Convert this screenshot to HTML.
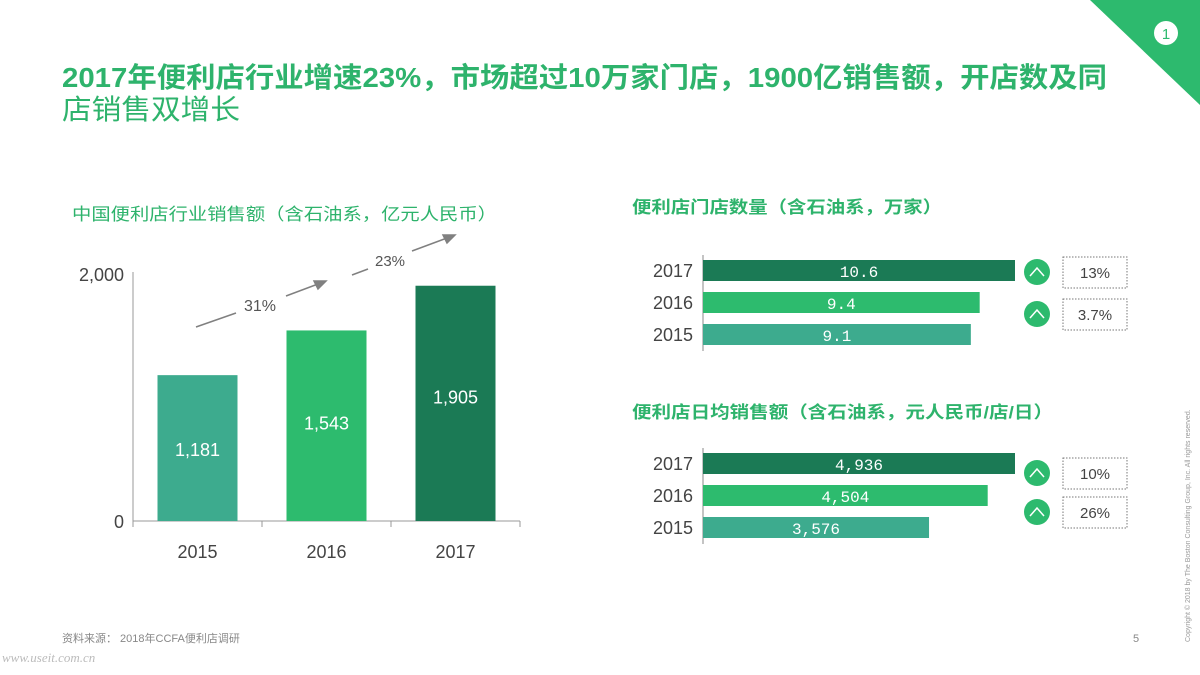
<!DOCTYPE html>
<html><head><meta charset="utf-8"><style>
body{margin:0;width:1200px;height:675px;overflow:hidden;background:#fff;font-family:"Liberation Sans","Noto Sans CJK SC",sans-serif;position:relative}
.abs{position:absolute}
</style></head><body>
<svg class="abs" style="left:0;top:0" width="1200" height="675">
<polygon points="1090,0 1200,0 1200,105" fill="#2dba6e"/>
<circle cx="1166" cy="33" r="12" fill="#fff"/>
<text x="1166" y="39" text-anchor="middle" font-size="15" fill="#2dba6e" font-family="Liberation Sans,sans-serif">1</text>
<text x="62" y="87" font-size="28" fill="#2eb36c" font-weight="bold" textLength="1045" lengthAdjust="spacingAndGlyphs" font-family="Liberation Sans,Noto Sans CJK SC,sans-serif">2017年便利店行业增速23%，市场超过10万家门店，1900亿销售额，开店数及同</text>
<text x="62" y="119" font-size="28" fill="#2eb36c" textLength="178" lengthAdjust="spacingAndGlyphs" font-family="Liberation Sans,Noto Sans CJK SC,sans-serif">店销售双增长</text>
<text x="72" y="220" font-size="17" fill="#2eb36c" textLength="425" lengthAdjust="spacingAndGlyphs" font-family="Liberation Sans,Noto Sans CJK SC,sans-serif">中国便利店行业销售额（含石油系，亿元人民币）</text>
<text x="632" y="213" font-size="17" fill="#2eb36c" font-weight="bold" textLength="310" lengthAdjust="spacingAndGlyphs" font-family="Liberation Sans,Noto Sans CJK SC,sans-serif">便利店门店数量（含石油系，万家）</text>
<text x="632" y="418" font-size="17" fill="#2eb36c" font-weight="bold" textLength="421" lengthAdjust="spacingAndGlyphs" font-family="Liberation Sans,Noto Sans CJK SC,sans-serif">便利店日均销售额（含石油系，元人民币/店/日）</text>
<g id="left"></g>
<g id="right"></g>
<g stroke="#808080" stroke-width="1.5" fill="#808080">
<line x1="196" y1="327" x2="236" y2="313"/><line x1="286" y1="296" x2="318" y2="284"/>
<polygon points="326,281 314,281 318,289"/>
<line x1="412" y1="251" x2="447" y2="238"/><polygon points="455,235 443,235 447,243"/>
<line x1="352" y1="275" x2="368" y2="269"/>
</g>
<text x="260" y="311" text-anchor="middle" font-size="16" fill="#555">31%</text>
<text x="390" y="266" text-anchor="middle" font-size="15" fill="#555">23%</text>
<text x="62" y="642" font-size="11" fill="#888" font-family="Liberation Sans,Noto Sans CJK SC,sans-serif">资料来源： 2018年CCFA便利店调研</text>
<text x="1133" y="642" font-size="11" fill="#888">5</text>
<text x="2" y="662" font-size="13" fill="#bbb" font-style="italic" font-family="Liberation Serif,serif">www.useit.com.cn</text>
<text transform="translate(1190,642) rotate(-90)" font-size="7" fill="#999">Copyright © 2018 by The Boston Consulting Group, Inc. All rights reserved.</text>
</svg>
<script>
const years=["2015","2016","2017"];
const salesValues=[1181,1543,1905];
const yTicks=[0,2000];
const storeYears=["2017","2016","2015"];
const storeValues=[10.6,9.4,9.1];
const storeLabels=["10.6","9.4","9.1"];
const storeGrowth=["13%","3.7%"];
const dailyValues=[4936,4504,3576];
const dailyLabels=["4,936","4,504","3,576"];
const dailyGrowth=["10%","26%"];
const NS="http://www.w3.org/2000/svg";
function mk(p,t,a,txt){const e=document.createElementNS(NS,t);for(const k in a)e.setAttribute(k,a[k]);if(txt!==undefined)e.textContent=txt;p.appendChild(e);return e;}
const colors={"2015":"#3dab8e","2016":"#2dbb6e","2017":"#1b7a55"};
const L=document.getElementById('left');
const y0=521,ys=v=>y0-v*(247/2000);
const band=129,x0=133;
let ax=mk(L,'line',{x1:133,y1:272,x2:133,y2:521,stroke:'#999'});

let bx=mk(L,'line',{x1:133,y1:521,x2:520,y2:521,stroke:'#999'});

yTicks.forEach(t=>{const e=mk(L,'text',{x:124,y:ys(t)+7,'text-anchor':'end','font-size':18,fill:'#444'},t.toLocaleString('en-US'));
});
for(let i=0;i<=3;i++){const e=mk(L,'line',{x1:x0+i*band,y1:521,x2:x0+i*band,y2:527,stroke:'#999'});}
years.forEach((y,i)=>{const v=salesValues[i];const cx=x0+band*(i+0.5);
const r=mk(L,'rect',{x:cx-40,y:ys(v),width:80,height:y0-ys(v),fill:colors[y]});

const t=mk(L,'text',{x:cx,y:(ys(v)+y0)/2+8+(i==0?0:(i==1?-4:-8)),'text-anchor':'middle','font-size':18,fill:'#fff'},v.toLocaleString('en-US'));

const xl=mk(L,'text',{x:cx,y:558,'text-anchor':'middle','font-size':18,fill:'#444'},y);
});
const R=document.getElementById('right');
function hbar(top,vals,labels,growth,scale,prefix,boxTops){
const a=mk(R,'line',{x1:703,y1:top-5,x2:703,y2:top+91,stroke:'#888'});

storeYears.forEach((y,i)=>{const by=top+i*32;const w=vals[i]*scale;
const r=mk(R,'rect',{x:703,y:by,width:w,height:21,fill:colors[y]});

const t=mk(R,'text',{x:703+w/2,y:by+17,'text-anchor':'middle','font-size':16,fill:'#fff','font-family':'Liberation Mono,monospace'},labels[i]);

const yl=mk(R,'text',{x:693,y:by+17,'text-anchor':'end','font-size':18,fill:'#444'},y);
});
growth.forEach((g,i)=>{const bt=boxTops[i];
const c=mk(R,'circle',{cx:1037,cy:bt+15,r:13,fill:'#2dba6e'});

mk(R,'polyline',{points:`1030,${bt+19} 1037,${bt+11} 1044,${bt+19}`,fill:'none',stroke:'#fff','stroke-width':1.5});
const b=mk(R,'rect',{x:1063,y:bt,width:64,height:31,fill:'none',stroke:'#777','stroke-dasharray':'1.5,1.5'});

const t=mk(R,'text',{x:1095,y:bt+21,'text-anchor':'middle','font-size':15,fill:'#444'},g);
});}
hbar(260,storeValues,storeLabels,storeGrowth,312/10.6,'store',[257,299]);
hbar(453,dailyValues,dailyLabels,dailyGrowth,312/4936,'daily',[458,497]);
</script>
</body></html>
